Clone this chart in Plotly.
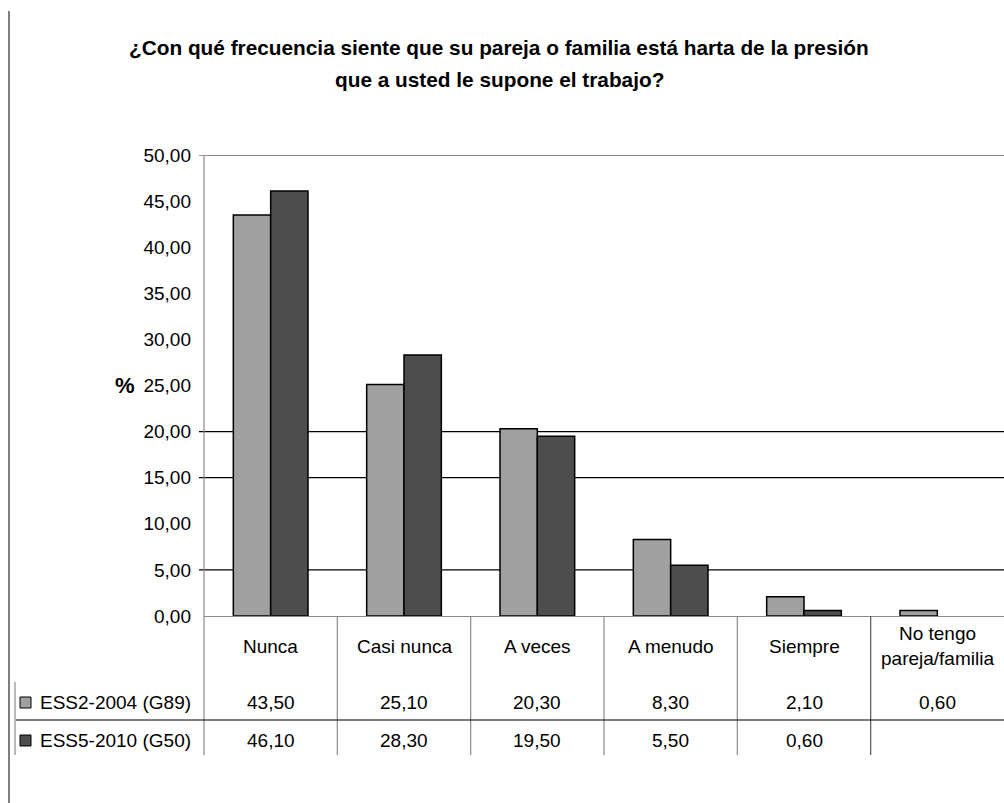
import plotly.graph_objects as go

# ---------------- data ----------------
categories = ["Nunca", "Casi nunca", "A veces", "A menudo", "Siempre", "No tengo<br>pareja/familia"]
series_names = ["ESS2-2004 (G89)", "ESS5-2010 (G50)"]
ess2_2004 = [43.5, 25.1, 20.3, 8.3, 2.1, 0.6]
ess5_2010 = [46.1, 28.3, 19.5, 5.5, 0.6, None]
y_ticks = [0, 5, 10, 15, 20, 25, 30, 35, 40, 45, 50]
title_lines = ["¿Con qué frecuencia siente que su pareja o familia está harta de la presión",
               "que a usted le supone el trabajo?"]
y_label = "%"

# ---------------- layout geometry (pixels) ----------------
W, H = 1004, 803
PL, PR, PT, PB = 204, 1004, 155, 616
PW, PH = PR - PL, PB - PT
FONT = "Liberation Sans, Arial, sans-serif"
COL_LIGHT = "#a0a0a0"
COL_DARK = "#4d4d4d"
GRAY = "#8a8a8a"
TABLE_FONT = 19


def px_x(px):
    return (px - PL) / PW


def px_y(py):
    return (PB - py) / PH


def fmt(v):
    return "" if v is None else f"{v:.2f}".replace(".", ",")


fig = go.Figure()
idx = list(range(len(categories)))
for name, vals, col in [(series_names[0], ess2_2004, COL_LIGHT), (series_names[1], ess5_2010, COL_DARK)]:
    fig.add_trace(go.Bar(
        x=idx, y=vals, name=name,
        marker=dict(color=col, line=dict(color="black", width=1.5)),
        showlegend=False,
    ))

shapes = []
annotations = []

# partial gridlines as visible in the reference (with their tick stubs)
for g in [5, 15, 20]:
    shapes.append(dict(type="line", xref="paper", yref="y", x0=px_x(199), x1=1, y0=g, y1=g,
                       line=dict(color="black", width=1.2), layer="below"))
# top border of plot area + tick at 50
shapes.append(dict(type="line", xref="paper", yref="y", x0=px_x(199), x1=px_x(204), y0=50, y1=50,
                   line=dict(color="#555", width=1.2)))
shapes.append(dict(type="line", xref="paper", yref="y", x0=0, x1=1, y0=50, y1=50,
                   line=dict(color=GRAY, width=2.2)))
# y axis line extended down through the table
shapes.append(dict(type="line", xref="paper", yref="paper", x0=0, x1=0, y0=1, y1=px_y(755),
                   line=dict(color=GRAY, width=1.2)))
# table column separators
for i in range(len(categories) - 1):
    shapes.append(dict(type="line", xref="x", yref="paper", x0=i + 0.5, x1=i + 0.5,
                       y0=0, y1=px_y(755), line=dict(color=GRAY if i < 4 else "#555", width=1.2)))
# horizontal line between table rows
shapes.append(dict(type="line", xref="paper", yref="paper", x0=px_x(16), x1=1,
                   y0=px_y(720), y1=px_y(720), line=dict(color="black", width=1.2)))
# left border of legend cells
shapes.append(dict(type="line", xref="paper", yref="paper", x0=px_x(15), x1=px_x(15),
                   y0=px_y(682), y1=px_y(755), line=dict(color=GRAY, width=1.2)))
# page margin line
shapes.append(dict(type="line", xref="paper", yref="paper", x0=px_x(9), x1=px_x(9),
                   y0=px_y(11), y1=px_y(803), line=dict(color="#555", width=1.5)))

# legend keys + labels in the table
row_centers = [702, 740]
for name, col, yc in zip(series_names, [COL_LIGHT, COL_DARK], row_centers):
    shapes.append(dict(type="rect", xref="paper", yref="paper",
                       x0=px_x(20), x1=px_x(31), y0=px_y(yc - 5), y1=px_y(yc + 6),
                       fillcolor=col, line=dict(color="black", width=1)))
    annotations.append(dict(text=name, xref="paper", yref="paper", x=px_x(38), y=px_y(yc),
                            xanchor="left", yanchor="middle", showarrow=False,
                            font=dict(family=FONT, size=TABLE_FONT, color="black")))

# category labels and table values
for i, cat in enumerate(categories):
    annotations.append(dict(text=cat, xref="x", yref="paper", x=i, y=px_y(646),
                            xanchor="center", yanchor="middle", showarrow=False,
                            font=dict(family=FONT, size=TABLE_FONT, color="black")))
    for vals, yc in zip([ess2_2004, ess5_2010], row_centers):
        annotations.append(dict(text=fmt(vals[i]), xref="x", yref="paper", x=i, y=px_y(yc),
                                xanchor="center", yanchor="middle", showarrow=False,
                                font=dict(family=FONT, size=TABLE_FONT, color="black")))

# title
for line, yc in zip(title_lines, [48, 79]):
    annotations.append(dict(text=f"<b>{line}</b>", xref="paper", yref="paper", x=px_x(499), y=px_y(yc),
                            xanchor="center", yanchor="middle", showarrow=False,
                            font=dict(family=FONT, size=20.8, color="black")))

# y label
annotations.append(dict(text=f"<b>{y_label}</b>", xref="paper", yref="y", x=px_x(125), y=25,
                        xanchor="center", yanchor="middle", showarrow=False,
                        font=dict(family=FONT, size=22, color="black")))

fig.update_layout(
    width=W, height=H,
    margin=dict(l=PL, r=W - PR, t=PT, b=H - PB, pad=0),
    paper_bgcolor="white", plot_bgcolor="white",
    barmode="group", bargap=0.44, bargroupgap=0,
    separators=",.",
    font=dict(family=FONT, size=18, color="black"),
    xaxis=dict(range=[-0.5, len(categories) - 0.5], showticklabels=False, ticks="",
               showgrid=False, zeroline=False, showline=True, linecolor=GRAY, linewidth=1.2),
    yaxis=dict(range=[0, 50], tickvals=y_ticks, tickformat=".2f", ticks="",
               showgrid=False, zeroline=False, showline=False, ticklabelstandoff=12,
               tickfont=dict(family=FONT, size=19, color="black")),
    shapes=shapes, annotations=annotations,
)

fig.write_html("out.html", config={"displayModeBar": False},
               post_script="document.body.style.margin='0';document.body.style.overflow='hidden';")
